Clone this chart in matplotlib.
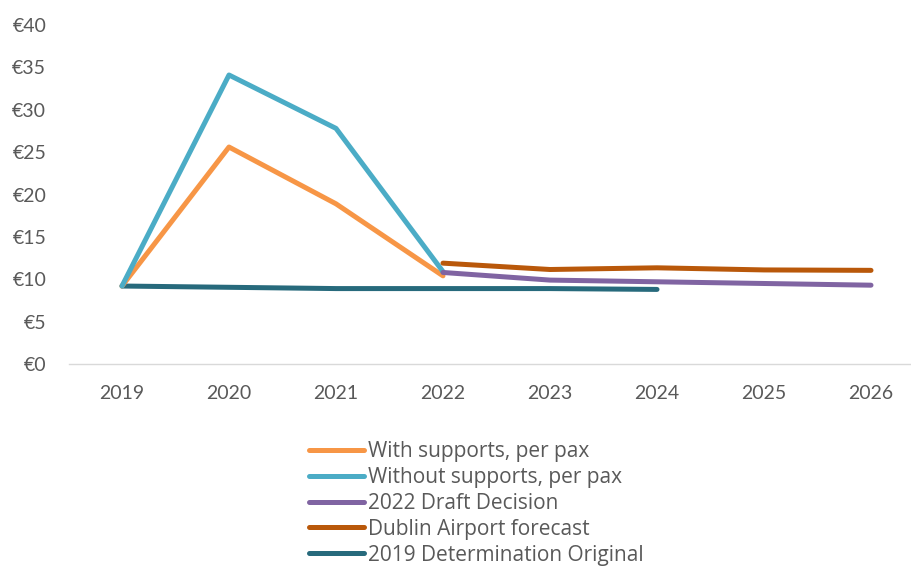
import matplotlib
matplotlib.use("Agg")
import matplotlib.pyplot as plt

plt.rcParams['font.family'] = ['Lato', 'DejaVu Sans']

years = ["2019", "2020", "2021", "2022", "2023", "2024", "2025", "2026"]

with_supports = [9.2, 25.6, 18.9, 10.4]
without_supports = [9.2, 34.1, 27.8, 10.9]
draft_decision_2022 = [10.8, 9.9, 9.7, 9.5, 9.3]
dublin_forecast = [11.9, 11.15, 11.35, 11.1, 11.05]
determination_2019 = [9.2, 9.05, 8.9, 8.9, 8.9, 8.8]

series = [
    ("With supports, per pax", years[0:4], with_supports, "#F79646"),
    ("Without supports, per pax", years[0:4], without_supports, "#4BACC6"),
    ("2022 Draft Decision", years[3:8], draft_decision_2022, "#8064A2"),
    ("Dublin Airport forecast", years[3:8], dublin_forecast, "#B9580A"),
    ("2019 Determination Original", years[0:6], determination_2019, "#276A7C"),
]

fig = plt.figure(figsize=(9.11, 5.68), dpi=100)
ax = fig.add_axes([68.5 / 911, 1 - 364 / 568, (911 - 68.5) / 911, (364 - 25) / 568])

pos = {y: i for i, y in enumerate(years)}
# draw back-to-front so the teal baseline sits beneath the others at 2019
order = [4, 0, 1, 2, 3]
lines = {}
for idx in order:
    label, xs, ys, color = series[idx]
    ln, = ax.plot([pos[x] for x in xs], ys, color=color, lw=3.6,
                  solid_capstyle="round", solid_joinstyle="round", label=label)
    lines[idx] = ln
handles = [lines[i] for i in range(5)]

ax.set_xlim(-0.5, (911 - 68.5) / 107 - 0.5)
ax.set_ylim(0, 40)
ax.set_xticks(range(len(years)))
ax.set_xticklabels(years)
ax.set_yticks(range(0, 41, 5))
ax.set_yticklabels([f"€{v}" for v in range(0, 41, 5)])

for s in ["top", "right", "left"]:
    ax.spines[s].set_visible(False)
ax.spines["bottom"].set_color("#D9D9D9")
ax.spines["bottom"].set_linewidth(1.0)
ax.tick_params(axis="both", length=0, labelsize=14, colors="#595959")
ax.tick_params(axis="x", pad=15)
ax.tick_params(axis="y", pad=16)

leg = fig.legend(handles=handles, loc="upper left",
                 bbox_to_anchor=(309 / 911, 1 - 441 / 568),
                 frameon=False, prop={"family": ["Open Sans", "DejaVu Sans"], "size": 15},
                 handlelength=2.65, handletextpad=0.18, labelspacing=0.235,
                 borderpad=0, borderaxespad=0)
for t in leg.get_texts():
    t.set_color("#595959")

fig.savefig("out.png", dpi=100)
